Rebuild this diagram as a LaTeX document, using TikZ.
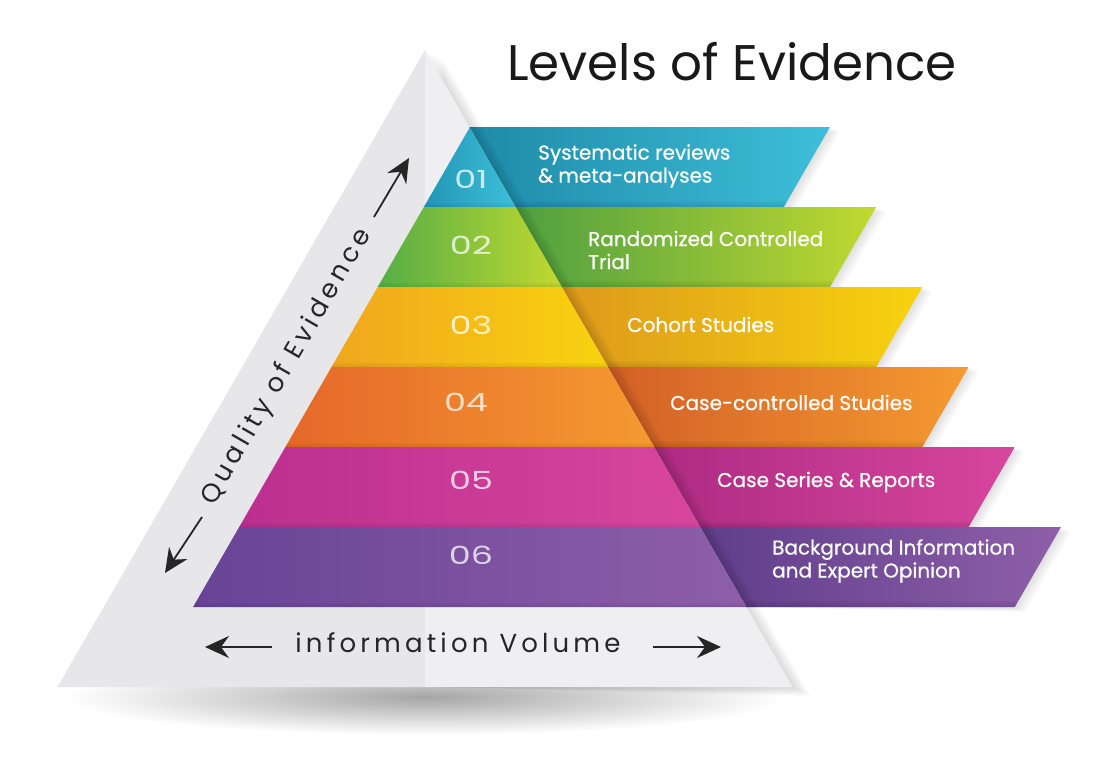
\documentclass[tikz,border=0pt]{standalone}
\usepackage{fontspec}
\setmainfont{Poppins}
\newfontfamily\ribbonfont[FakeBold=0.6]{Poppins}
\newfontfamily\spacedfont[LetterSpace=16]{Poppins}
\usetikzlibrary{arrows.meta}

\definecolor{cyanD}{HTML}{2196B6}
\definecolor{cyanL}{HTML}{3EBFD9}
\definecolor{greenD}{HTML}{55AD46}
\definecolor{greenL}{HTML}{C1D930}
\definecolor{yellowD}{HTML}{F0A61E}
\definecolor{yellowL}{HTML}{F8D30F}
\definecolor{orangeD}{HTML}{E5682A}
\definecolor{orangeL}{HTML}{F59A30}
\definecolor{pinkD}{HTML}{BC2F8E}
\definecolor{pinkL}{HTML}{D8469E}
\definecolor{purpleD}{HTML}{684396}
\definecolor{purpleL}{HTML}{8E5FA9}
\definecolor{grayDark}{HTML}{E7E7E9}
\definecolor{grayLight}{HTML}{EFEFF1}

\begin{document}
\begin{tikzpicture}[x=1pt,y=-1pt,
    numtext/.style={text=white, text opacity=0.75, xscale=1.4, font=\fontsize{25}{30}\selectfont},
    ribbontext/.style={text=white, font=\ribbonfont\fontsize{20}{23}\selectfont, align=left, inner sep=0pt},
    axistext/.style={text=black!85, font=\spacedfont\fontsize{26}{30}\selectfont, inner sep=0pt},
    axisarrow/.style={-{Stealth[length=24pt,width=22pt,inset=8pt]}, line width=1.8pt, black!85},
    softshadow/.style={fill=black, fill opacity=0.025},
    foldshadow/.style={fill=black, fill opacity=0.035}]
  \useasboundingbox (0,0) rectangle (1114,768);

  % shadow under the pyramid
  \shade[inner color=black!35, outer color=white] (425,697) ellipse [x radius=360, y radius=38];

  % gray pyramid
  \foreach \d in {3,6,...,18}
    \fill[softshadow] (425+\d,50+\d/2) -- (792.5+\d,687+\d/2) -- (425,687) -- cycle;
  \fill[grayDark] (425,50) -- (57.5,687) -- (425,687) -- cycle;
  \fill[grayLight] (425,50) -- (792.5,687) -- (425,687) -- cycle;

  % bands
  \foreach \i/\dk/\lt in {0/cyanD/cyanL,1/greenD/greenL,2/yellowD/yellowL,3/orangeD/orangeL,4/pinkD/pinkL,5/purpleD/purpleL}{
    \pgfmathsetmacro\tp{127+80*\i}
    \pgfmathsetmacro\bt{\tp+80}
    \pgfmathsetmacro\it{543.3-0.577*\tp}
    \pgfmathsetmacro\ib{543.3-0.577*\bt}
    \pgfmathsetmacro\ft{396.15+0.577*\tp}
    \pgfmathsetmacro\fb{396.15+0.577*\bt}
    \pgfmathsetmacro\rt{830+46.2*\i}
    \pgfmathsetmacro\rb{\rt-46.2}
    \foreach \d in {2,4,...,10}
      \fill[softshadow] (\ft,\tp) -- (\rt+\d,\tp+\d/2) -- (\rb+\d,\bt+\d/2) -- (\fb,\bt) -- cycle;
    \shade[left color=\dk!92!black, right color=\lt] (\ft,\tp) -- (\rt,\tp) -- (\rb,\bt) -- (\fb,\bt) -- cycle;
    \foreach \w in {3,6,9,12}
      \fill[foldshadow] (\ft,\tp) -- (\ft+\w,\tp) -- (\fb+\w,\bt) -- (\fb,\bt) -- cycle;
    \foreach \w in {2,4,6}
      \fill[foldshadow] (\fb,\bt-\w) -- (\rb+0.577*\w,\bt-\w) -- (\rb,\bt) -- (\fb,\bt) -- cycle;
    \shade[left color=\dk, right color=\lt] (\it,\tp) -- (\ft,\tp) -- (\fb,\bt) -- (\ib,\bt) -- cycle;
    \foreach \w in {2,4}
      \fill[foldshadow] (\ib+0.577*\w,\bt-\w) -- (\fb-0.577*\w,\bt-\w) -- (\fb,\bt) -- (\ib,\bt) -- cycle;
  }

  % numbers
  \node[numtext] (n1) at (471,179) {01};
  \node[numtext] (n2) at (471,245) {02};
  \node[numtext] (n3) at (471,325) {03};
  \node[numtext] (n4) at (466,402) {04};
  \node[numtext] (n5) at (471,480) {05};
  \node[numtext] (n6) at (471,555) {06};

  % ribbon labels
  \node[ribbontext, anchor=west] (t1) at (538,166) {Systematic reviews\\\& meta-analyses};
  \node[ribbontext, anchor=west] (t2) at (588,250) {Randomized Controlled\\Trial};
  \node[ribbontext, anchor=base west] (t3) at (627,332) {Cohort Studies};
  \node[ribbontext, anchor=base west] (t4) at (670,410) {Case-controlled Studies};
  \node[ribbontext, anchor=base west] (t5) at (717,487) {Case Series \& Reports};
  \node[ribbontext, anchor=west] (t6) at (772,561) {Background Information\\and Expert Opinion};

  % title
  \node[font=\fontsize{50}{60}\selectfont, text=black!90] (title) at (732,62) {Levels of Evidence};

  % axes
  \node[axistext, rotate=60] (quality) at (287,367) {Quality of Evidence};
  \coordinate (qlowtail) at (202,517);
  \coordinate (qlowtip) at (165,573);
  \coordinate (quptail) at (374,217);
  \coordinate (quptip) at (409,158);
  \draw[axisarrow] (qlowtail) -- (qlowtip);
  \draw[axisarrow] (quptail) -- (quptip);

  \node[axistext] (volume) at (458,643) {information Volume};
  \coordinate (vlefttail) at (272,647);
  \coordinate (vlefttip) at (205,647);
  \coordinate (vrighttail) at (653,647);
  \coordinate (vrighttip) at (721,647);
  \draw[axisarrow] (vlefttail) -- (vlefttip);
  \draw[axisarrow] (vrighttail) -- (vrighttip);
\end{tikzpicture}
\end{document}
